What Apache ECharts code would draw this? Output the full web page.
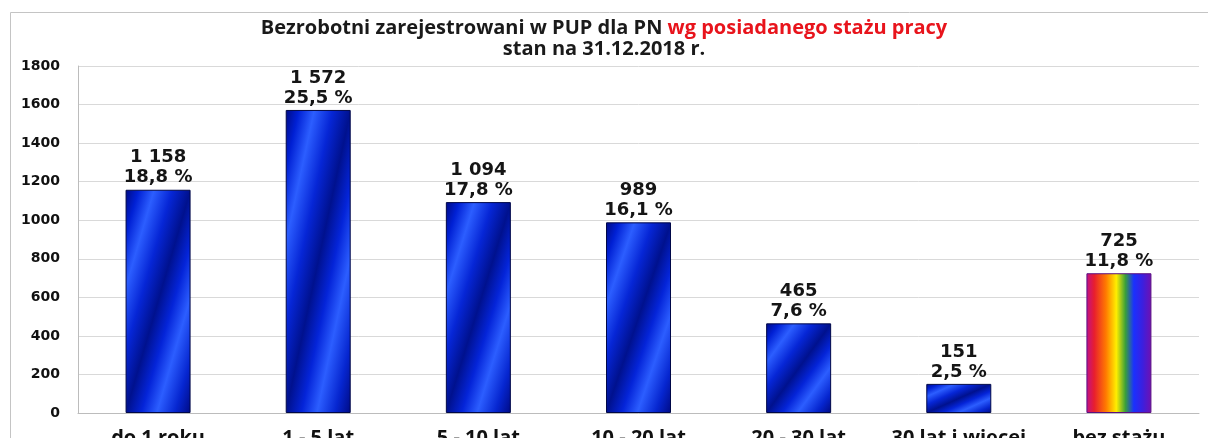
<!DOCTYPE html>
<html>
<head>
<meta charset="utf-8">
<script src="https://cdn.jsdelivr.net/npm/echarts@6/dist/echarts.min.js"></script>
<style>html,body{margin:0;padding:0;background:#fff;}#c{width:1208px;height:438px;}</style>
</head>
<body>
<div id="c"></div>
<script>
const categories = ['do 1 roku', '1 - 5 lat', '5 - 10 lat', '10 - 20 lat', '20 - 30 lat', '30 lat i więcej', 'bez stażu'];
const values = [1158, 1572, 1094, 989, 465, 151, 725];
const percents = [18.8, 25.5, 17.8, 16.1, 7.6, 2.5, 11.8];
const yMin = 0, yMax = 1800, yStep = 200;
const titleMain = 'Bezrobotni zarejestrowani w PUP dla PN ';
const titleRed = 'wg posiadanego stażu pracy';
const subtitle = 'stan na 31.12.2018 r.';

function fmtNum(v) { return String(v).replace(/\B(?=(\d{3})+(?!\d))/g, ' '); }
function fmtPct(p) { return p.toFixed(1).replace('.', ',') + ' %'; }

const blueStops = [
  [0, '#000a84'], [0.1, '#0020d4'], [0.22, '#2c5eff'], [0.36, '#0626d6'],
  [0.5, '#00118e'], [0.62, '#0424d8'], [0.74, '#2c5eff'], [0.88, '#0626d0'], [1, '#000a84']
];
const rainbowStops = [
  [0, '#c0108a'], [0.12, '#e81e2e'], [0.3, '#ff7a00'], [0.46, '#ffee00'],
  [0.6, '#3aa03a'], [0.73, '#1a30ff'], [0.86, '#3a20e0'], [1, '#7010b0']
];

function blueGradient(w, h) {
  const d = h * h + w * w;
  return new echarts.graphic.LinearGradient(0, 0, 2 * h * h / d, 2 * w * w / d,
    blueStops.map(s => ({ offset: s[0], color: s[1] })));
}

const chart = echarts.init(document.getElementById('c'), null, { renderer: 'canvas' });
const barWidth = 65;

function buildData(heightFn) {
  return values.map((v, i) => {
    const last = i === values.length - 1;
    return {
      value: v,
      itemStyle: last ? {
        color: new echarts.graphic.LinearGradient(0, 0, 1, 0, rainbowStops.map(s => ({ offset: s[0], color: s[1] }))),
        borderColor: '#5a1080', borderWidth: 1
      } : {
        color: blueGradient(barWidth, heightFn(v)),
        borderColor: '#000848', borderWidth: 1
      }
    };
  });
}

const option = {
  animation: false,
  backgroundColor: '#ffffff',
  graphic: [{
    type: 'rect', shape: { x: 10.5, y: 12.5, width: 1300, height: 600 },
    style: { fill: 'none', stroke: '#c4c4c4', lineWidth: 1 }, silent: true, z: 0
  }],
  title: {
    left: 'center', top: 13,
    text: '{a|' + titleMain + '}{b|' + titleRed + '}\n{a|' + subtitle + '}',
    textStyle: {
      rich: {
        a: { fontFamily: 'Open Sans', fontWeight: 'bold', fontSize: 20, color: '#1a1a1a', lineHeight: 21 },
        b: { fontFamily: 'Open Sans', fontWeight: 'bold', fontSize: 20, color: '#e8141c', lineHeight: 21 }
      }
    }
  },
  grid: { left: 78, right: 9, top: 66, bottom: 25, containLabel: false, outerBoundsMode: 'none' },
  xAxis: {
    type: 'category', data: categories,
    axisLine: { show: true, lineStyle: { color: '#bcbcbc', width: 1 } },
    axisTick: { show: false },
    axisLabel: { interval: 0, margin: 15, fontFamily: 'Open Sans', fontWeight: 'bold', fontSize: 20, lineHeight: 20, color: '#111' }
  },
  yAxis: {
    type: 'value', min: yMin, max: yMax, interval: yStep,
    axisLine: { show: true, lineStyle: { color: '#bcbcbc', width: 1 } },
    axisTick: { show: false },
    splitLine: { lineStyle: { color: '#d9d9d9', width: 1 } },
    axisLabel: { margin: 18, fontFamily: 'DejaVu Sans', fontWeight: 'bold', fontSize: 14, color: '#111',
      formatter: v => String(v) }
  },
  series: [{
    type: 'bar', barWidth: barWidth,
    data: buildData(v => v / yMax * 347),
    label: {
      show: true, position: 'top', distance: 2,
      fontFamily: 'DejaVu Sans', fontWeight: 'bold', fontSize: 18, lineHeight: 20, color: '#151515',
      formatter: p => fmtNum(p.value) + '\n' + fmtPct(percents[p.dataIndex])
    }
  }]
};
chart.setOption(option);
const y0 = chart.convertToPixel({ yAxisIndex: 0 }, 0);
chart.setOption({ series: [{ data: buildData(v => Math.abs(y0 - chart.convertToPixel({ yAxisIndex: 0 }, v))) }] });
</script>
</body>
</html>
